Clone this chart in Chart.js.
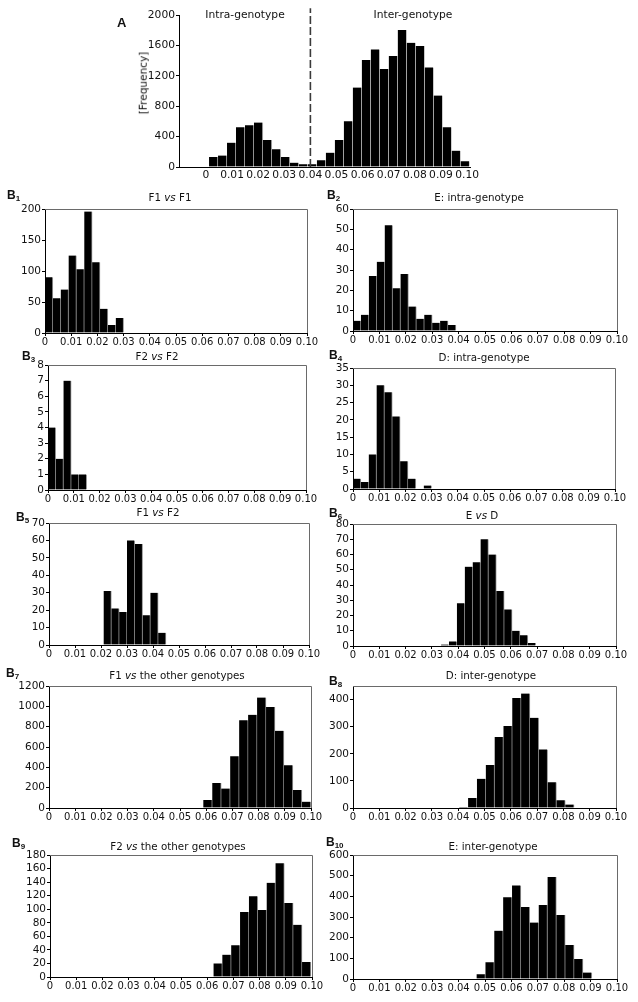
<!DOCTYPE html>
<html lang="en">
<head>
<meta charset="UTF-8">
<title>Distance distributions</title>
<script src="https://cdn.jsdelivr.net/npm/chart.js@4"></script>
<style>
  body { margin: 0; background: #fff; }
  #page { position: relative; width: 638px; height: 1002px; overflow: hidden; font-family: "DejaVu Sans", Verdana, sans-serif; color: #111; }
  canvas { position: absolute; }
  .title { position: absolute; transform: translate(-50%, -50%); font-size: 10.3px; white-space: nowrap; line-height: 1; }
  .tag { position: absolute; font-family: "Liberation Sans", Arial, sans-serif; font-weight: bold; font-size: 12px; line-height: 1; }
  .tag sub { font-size: 8px; vertical-align: -2px; }
</style>
</head>
<body>
<div id="page"></div>
<script>
// shared x axis
const xTickValues = [0, 0.01, 0.02, 0.03, 0.04, 0.05, 0.06, 0.07, 0.08, 0.09, 0.1];
const xTickLabels = ['0', '0.01', '0.02', '0.03', '0.04', '0.05', '0.06', '0.07', '0.08', '0.09', '0.10'];

// A: all pairs
const allBinStart = 0.0012, allBinWidth = 0.00344;
const allCounts = [132, 150, 320, 523, 550, 585, 356, 233, 132, 57, 35, 35, 88, 189, 356,
                   602, 1046, 1407, 1547, 1288, 1459, 1802, 1635, 1591, 1310, 940, 523, 215, 75];
const allYTicks = [0, 400, 800, 1200, 1600, 2000];
const cutoff = 0.04;

// B1 .. B10
const f1f1Counts = [90, 56, 70, 125, 103, 196, 114, 39, 13, 24];
const f1f1YTicks = [0, 50, 100, 150, 200];
const eIntraCounts = [5, 8, 27, 34, 52, 21, 28, 12, 6, 8, 4, 5, 3];
const eIntraYTicks = [0, 10, 20, 30, 40, 50, 60];
const f2f2Counts = [4, 2, 7, 1, 1];
const f2f2YTicks = [0, 1, 2, 3, 4, 5, 6, 7, 8];
const dIntraCounts = [3, 2, 10, 30, 28, 21, 8, 3, 0, 1];
const dIntraYTicks = [0, 5, 10, 15, 20, 25, 30, 35];
const f1f2Counts = [31, 21, 19, 60, 58, 17, 30, 7];
const f1f2YTicks = [0, 10, 20, 30, 40, 50, 60, 70];
const eDCounts = [1, 3, 28, 52, 55, 70, 60, 36, 24, 10, 7, 2];
const eDYTicks = [0, 10, 20, 30, 40, 50, 60, 70, 80];
const f1OtherCounts = [78, 245, 192, 509, 864, 916, 1086, 994, 760, 421, 176, 62];
const f1OtherYTicks = [0, 200, 400, 600, 800, 1000, 1200];
const dInterCounts = [4, 37, 108, 159, 262, 302, 406, 422, 333, 216, 95, 29, 13];
const dInterYTicks = [0, 100, 200, 300, 400];
const f2OtherCounts = [20, 33, 47, 96, 119, 99, 139, 168, 109, 77, 22];
const f2OtherYTicks = [0, 20, 40, 60, 80, 100, 120, 140, 160, 180];
const eInterCounts = [23, 81, 234, 395, 453, 348, 273, 358, 494, 310, 165, 97, 31, 3];
const eInterYTicks = [0, 100, 200, 300, 400, 500, 600];

const page = document.getElementById('page');

const framePlugin = {
  id: 'frame',
  afterDraw(chart, args, opts) {
    if (!opts.show) return;
    const { left, top, right, bottom } = chart.chartArea;
    const ctx = chart.ctx;
    ctx.save();
    ctx.strokeStyle = '#6a6a6a';
    ctx.lineWidth = 1;
    ctx.beginPath();
    ctx.moveTo(left, Math.round(top) + 0.5);
    ctx.lineTo(Math.round(right) + 0.5, Math.round(top) + 0.5);
    ctx.lineTo(Math.round(right) + 0.5, bottom);
    ctx.stroke();
    ctx.restore();
  }
};

function addText(cls, html, x, y, extra) {
  const d = document.createElement('div');
  d.className = cls;
  d.innerHTML = html;
  d.style.left = x + 'px';
  d.style.top = y + 'px';
  if (extra) Object.assign(d.style, extra);
  page.appendChild(d);
}

function drawPanel(p) {
  const [l, t, r, b] = p.rect;
  const wy = p.wy || 38, pr = p.pr || 16, pt = p.pt || 7, hx = p.hx || 20;
  const cw = r - l + wy + pr, ch = b - t + pt + hx;
  const canvas = document.createElement('canvas');
  canvas.width = cw; canvas.height = ch;
  canvas.style.left = (l - wy) + 'px';
  canvas.style.top = (t - pt) + 'px';
  canvas.style.width = cw + 'px';
  canvas.style.height = ch + 'px';
  page.appendChild(canvas);

  const bars = p.counts.map((c, i) => ({ x: p.start + (i + 0.5) * p.width, y: c }));
  const datasets = [];
  if (p.divider !== undefined) {
    datasets.push({
      type: 'line',
      data: [{ x: p.divider, y: 0 }, { x: p.divider, y: p.dividerTop }],
      borderColor: '#3a3a3a', borderWidth: 1.6, borderDash: [8, 3],
      pointRadius: 0, clip: false, order: 0
    });
  }
  datasets.push({
    type: 'bar',
    data: bars,
    backgroundColor: '#000',
    borderColor: p.sep || '#9c9c9c',
    borderWidth: { left: 0, right: 1, top: 0, bottom: 0 },
    borderSkipped: false,
    barPercentage: 1, categoryPercentage: 1,
    order: 1
  });

  new Chart(canvas, {
    data: { datasets },
    plugins: [framePlugin],
    options: {
      responsive: false,
      animation: false,
      layout: { padding: { left: 0, right: pr, top: pt, bottom: 0 } },
      plugins: { legend: { display: false }, tooltip: { enabled: false }, frame: { show: p.frame !== false } },
      scales: {
        x: {
          type: 'linear', offset: false, min: p.xMin ?? 0, max: p.xMax ?? 0.1,
          afterBuildTicks: s => { s.ticks = xTickValues.map(v => ({ value: v })); },
          afterFit: s => { s.height = hx; s.paddingLeft = 0; s.paddingRight = 0; s.paddingTop = 0; s.paddingBottom = 0; },
          ticks: {
            autoSkip: false, maxRotation: 0, minRotation: 0, padding: p.xPad ?? 0,
            color: '#111', font: { family: 'DejaVu Sans', size: p.xFont || 10 },
            callback: (v, i) => xTickLabels[i]
          },
          grid: { offset: false, drawOnChartArea: false, drawTicks: p.xTickMarks !== false, tickLength: 3, color: '#000' },
          border: { color: '#000', width: 1 }
        },
        y: {
          min: 0, max: p.yMax,
          afterBuildTicks: s => { s.ticks = p.yTicks.map(v => ({ value: v })); },
          afterFit: s => { s.width = wy; s.paddingLeft = 0; s.paddingRight = 0; s.paddingTop = 0; s.paddingBottom = 0; },
          ticks: {
            autoSkip: false, padding: 1, color: '#111', font: { family: 'DejaVu Sans', size: p.yFont || 10.5 },
            callback: v => String(v)
          },
          grid: { drawOnChartArea: false, tickLength: 3, color: '#000' },
          border: { color: '#000', width: 1 }
        }
      }
    }
  });
}

// panel A
drawPanel({
  rect: [179, 15, 470, 167], wy: 56, pr: 12, pt: 8, hx: 20,
  start: allBinStart, width: allBinWidth, counts: allCounts,
  yMax: 2000, yTicks: allYTicks, xMin: -0.0103, xMax: 0.1011,
  frame: false, xTickMarks: false, xPad: 2, xFont: 10.7, yFont: 10.7,
  divider: cutoff, dividerTop: 2090, sep: '#d0d0d0'
});
addText('tag', 'A', 117, 16, { fontSize: '13px' });
addText('title', 'Intra-genotype', 245, 15, { fontSize: '10.7px' });
addText('title', 'Inter-genotype', 413, 15, { fontSize: '10.7px' });
addText('title', '[Frequency]', 143, 83, { fontSize: '10.5px', transform: 'translate(-50%,-50%) rotate(-90deg)' });

const panels = [
  { tag: '1', tagAt: [7, 189], title: 'F1 <i>vs</i> F1', titleAt: [170, 197], rect: [45, 209, 307, 333],
    start: 0, width: 0.003, counts: f1f1Counts, yMax: 200, yTicks: f1f1YTicks },
  { tag: '2', tagAt: [327, 189], title: 'E: intra-genotype', titleAt: [479, 197], rect: [353, 209, 617, 331],
    start: 0, width: 0.003, counts: eIntraCounts, yMax: 60, yTicks: eIntraYTicks },
  { tag: '3', tagAt: [22, 350], title: 'F2 <i>vs</i> F2', titleAt: [157, 356], rect: [48, 365, 306, 490],
    start: 0, width: 0.003, counts: f2f2Counts, yMax: 8, yTicks: f2f2YTicks },
  { tag: '4', tagAt: [329, 349], title: 'D: intra-genotype', titleAt: [484, 357], rect: [353, 368, 615, 489],
    start: 0, width: 0.003, counts: dIntraCounts, yMax: 35, yTicks: dIntraYTicks },
  { tag: '5', tagAt: [16, 511], title: 'F1 <i>vs</i> F2', titleAt: [158, 512], rect: [49, 523, 309, 645],
    start: 0.021, width: 0.003, counts: f1f2Counts, yMax: 70, yTicks: f1f2YTicks },
  { tag: '6', tagAt: [329, 507], title: 'E <i>vs</i> D', titleAt: [482, 515], rect: [353, 524, 616, 646],
    start: 0.0335, width: 0.003, counts: eDCounts, yMax: 80, yTicks: eDYTicks },
  { tag: '7', tagAt: [6, 667], title: 'F1 <i>vs</i> the other genotypes', titleAt: [177, 675], rect: [49, 686, 311, 808],
    start: 0.0589, width: 0.00342, counts: f1OtherCounts, yMax: 1200, yTicks: f1OtherYTicks },
  { tag: '8', tagAt: [329, 675], title: 'D: inter-genotype', titleAt: [491, 675], rect: [353, 686, 616, 808],
    start: 0.0404, width: 0.00336, counts: dInterCounts, yMax: 450, yTicks: dInterYTicks },
  { tag: '9', tagAt: [12, 837], title: 'F2 <i>vs</i> the other genotypes', titleAt: [178, 846], rect: [50, 855, 312, 977],
    start: 0.0624, width: 0.00338, counts: f2OtherCounts, yMax: 180, yTicks: f2OtherYTicks },
  { tag: '10', tagAt: [326, 836], title: 'E: inter-genotype', titleAt: [493, 846], rect: [353, 855, 617, 979],
    start: 0.0468, width: 0.00336, counts: eInterCounts, yMax: 600, yTicks: eInterYTicks }
];

panels.forEach(p => {
  drawPanel(p);
  addText('title', p.title, p.titleAt[0], p.titleAt[1]);
  addText('tag', 'B<sub>' + p.tag + '</sub>', p.tagAt[0], p.tagAt[1]);
});
</script>
</body>
</html>
